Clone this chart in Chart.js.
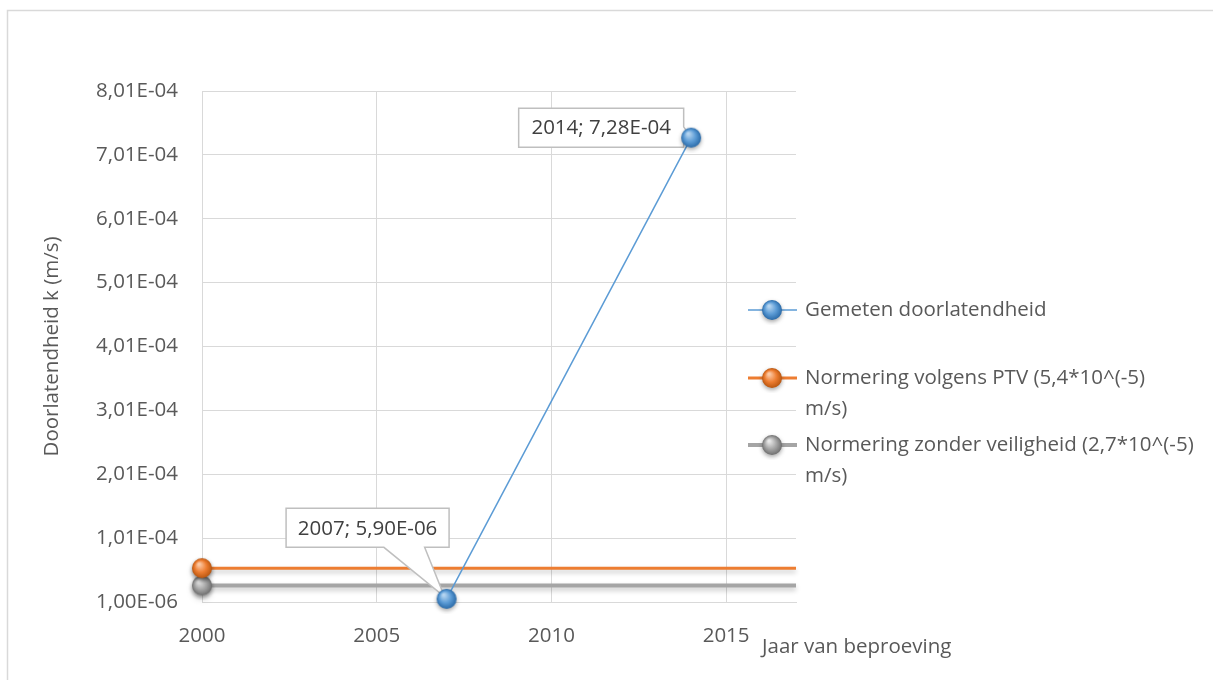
<!DOCTYPE html>
<html>
<head>
<meta charset="utf-8">
<script src="https://cdn.jsdelivr.net/npm/chart.js@4/dist/chart.umd.min.js"></script>
<style>
  html, body { margin: 0; padding: 0; background: #ffffff; }
  #wrap { width: 1213px; height: 680px; }
</style>
</head>
<body>
<div id="wrap"><canvas id="c" width="1213" height="680"></canvas></div>
<script>
// Measured permeability per test year
const measuredYears = [2007, 2014];
const measuredValues = [5.90e-6, 7.28e-4];

// Norm lines (constant over the whole period)
const normYears = [2000, 2017];
const normPTV = [5.4e-5, 5.4e-5];
const normNoSafety = [2.7e-5, 2.7e-5];

// Axis ticks
const xTickValues = [2000, 2005, 2010, 2015];
const yTickValues = [1.00e-6, 1.01e-4, 2.01e-4, 3.01e-4, 4.01e-4, 5.01e-4, 6.01e-4, 7.01e-4, 8.01e-4];

const seriesNames = [
  'Gemeten doorlatendheid',
  'Normering volgens PTV (5,4*10^(-5) m/s)',
  'Normering zonder veiligheid (2,7*10^(-5) m/s)'
];
const legendLines = [
  ['Gemeten doorlatendheid'],
  ['Normering volgens PTV (5,4*10^(-5)', 'm/s)'],
  ['Normering zonder veiligheid (2,7*10^(-5)', 'm/s)']
];

const FONT = '"Open Sans"';
const FSIZE = 20.5;
const TEXT = '#595959';
const GRID = '#d9d9d9';

function fmtSci(v) {
  const parts = v.toExponential(2).split('e');
  const ex = parseInt(parts[1], 10);
  return parts[0].replace('.', ',') + 'E' + (ex < 0 ? '-' : '+') + String(Math.abs(ex)).padStart(2, '0');
}

// Shaded sphere used as the point marker
function makeSphere(r, light, mid, dark) {
  const s = 2 * r + 10;
  const cv = document.createElement('canvas');
  cv.width = s; cv.height = s;
  const g = cv.getContext('2d');
  const c = s / 2;
  g.save();
  g.shadowColor = 'rgba(0,0,0,0.35)';
  g.shadowBlur = 4;
  g.shadowOffsetY = 2;
  const grad = g.createRadialGradient(c - r * 0.3, c - r * 0.4, r * 0.1, c, c, r);
  grad.addColorStop(0, light);
  grad.addColorStop(0.55, mid);
  grad.addColorStop(1, dark);
  g.fillStyle = grad;
  g.beginPath();
  g.arc(c, c, r, 0, Math.PI * 2);
  g.fill();
  g.restore();
  return cv;
}

const sphereBlue = makeSphere(10, '#b4d4f0', '#5b9bd5', '#2a6aa8');
const sphereOrange = makeSphere(10, '#fbc8a4', '#ed7d31', '#b9560f');
const sphereGray = makeSphere(10, '#e8e8e8', '#a5a5a5', '#6f6f6f');
const spheres = [sphereBlue, sphereOrange, sphereGray];
const lineColors = ['#5b9bd5', '#ed7d31', '#a5a5a5'];
const lineWidths = [1.5, 3, 4];

// Callout placement relative to each labelled point: box centre offset and pointer side
const calloutStyle = [
  { dx: -79, dy: -71, w: 163, h: 39, side: 'bottom' },
  { dx: -90, dy: -10, w: 165, h: 39, side: 'right' }
];

const outerFrame = {
  id: 'outerFrame',
  beforeDraw(chart) {
    const ctx = chart.ctx;
    ctx.save();
    ctx.strokeStyle = GRID;
    ctx.lineWidth = 1.5;
    ctx.strokeRect(7.5, 10.5, 1400, 900);
    ctx.restore();
  }
};

const lineShadow = {
  id: 'lineShadow',
  beforeDatasetDraw(chart, args) {
    const ctx = chart.ctx;
    ctx.save();
    if (args.index > 0) {
      ctx.shadowColor = 'rgba(0,0,0,0.22)';
      ctx.shadowBlur = 5;
      ctx.shadowOffsetY = 3;
    }
    if (args.index === 0) drawCallouts(chart);
  },
  afterDatasetDraw(chart) {
    chart.ctx.restore();
  }
};

function drawCallouts(chart) {
  const ctx = chart.ctx;
  const meta = chart.getDatasetMeta(0);
  meta.data.forEach((pt, i) => {
    const st = calloutStyle[i];
    const cx = pt.x + st.dx, cy = pt.y + st.dy;
    const l = cx - st.w / 2, r = cx + st.w / 2, t = cy - st.h / 2, b = cy + st.h / 2;
    ctx.save();
    ctx.beginPath();
    if (st.side === 'bottom') {
      const b1 = l + st.w * 0.6, b2 = l + st.w * 0.85;
      ctx.moveTo(l, t); ctx.lineTo(r, t); ctx.lineTo(r, b);
      ctx.lineTo(b2, b); ctx.lineTo(pt.x - 2, pt.y - 2); ctx.lineTo(b1, b);
      ctx.lineTo(l, b); ctx.closePath();
    } else {
      ctx.moveTo(l, t); ctx.lineTo(r, t); ctx.lineTo(r, t + st.h * 0.48);
      ctx.lineTo(pt.x, pt.y); ctx.lineTo(r, t + st.h * 0.8);
      ctx.lineTo(r, b); ctx.lineTo(l, b); ctx.closePath();
    }
    ctx.fillStyle = '#ffffff';
    ctx.fill();
    ctx.strokeStyle = '#bfbfbf';
    ctx.lineWidth = 1.5;
    ctx.stroke();
    ctx.fillStyle = '#404040';
    ctx.font = FSIZE + 'px ' + FONT;
    ctx.textAlign = 'center';
    ctx.textBaseline = 'middle';
    ctx.fillText(measuredYears[i] + '; ' + fmtSci(measuredValues[i]), cx, cy + 1);
    ctx.restore();
  });
}

const sideLegend = {
  id: 'sideLegend',
  afterDraw(chart) {
    const ctx = chart.ctx;
    const rows = [310, 378, 445];
    ctx.save();
    rows.forEach((y, i) => {
      ctx.strokeStyle = lineColors[i];
      ctx.lineWidth = lineWidths[i];
      ctx.beginPath();
      ctx.moveTo(748, y); ctx.lineTo(797, y);
      ctx.stroke();
      const sp = spheres[i];
      ctx.drawImage(sp, 772 - sp.width / 2, y - sp.height / 2);
      ctx.fillStyle = TEXT;
      ctx.font = FSIZE + 'px ' + FONT;
      ctx.textAlign = 'left';
      ctx.textBaseline = 'middle';
      legendLines[i].forEach((ln, k) => ctx.fillText(ln, 805, y + k * 31));
    });
    // Horizontal axis title, placed beside the last year
    ctx.font = FSIZE + 'px ' + FONT;
    ctx.fillText('Jaar van beproeving', 762, 647);
    ctx.restore();
  }
};

new Chart(document.getElementById('c'), {
  type: 'line',
  data: {
    datasets: [
      {
        label: seriesNames[0],
        data: measuredYears.map((x, i) => ({ x, y: measuredValues[i] })),
        borderColor: lineColors[0],
        borderWidth: lineWidths[0],
        pointStyle: sphereBlue,
        pointRadius: 10,
        clip: false
      },
      {
        label: seriesNames[1],
        data: normYears.map((x, i) => ({ x, y: normPTV[i] })),
        borderColor: lineColors[1],
        borderWidth: lineWidths[1],
        pointStyle: sphereOrange,
        pointRadius: [10, 0],
        clip: false
      },
      {
        label: seriesNames[2],
        data: normYears.map((x, i) => ({ x, y: normNoSafety[i] })),
        borderColor: lineColors[2],
        borderWidth: lineWidths[2],
        pointStyle: sphereGray,
        pointRadius: [10, 0],
        clip: false
      }
    ]
  },
  options: {
    responsive: false,
    animation: false,
    events: [],
    layout: { padding: { left: 36, top: 91, right: 417, bottom: 0 } },
    plugins: {
      legend: { display: false },
      tooltip: { enabled: false }
    },
    scales: {
      x: {
        type: 'linear',
        min: 2000,
        max: 2017,
        afterBuildTicks(s) { s.ticks = xTickValues.map(v => ({ value: v })); },
        afterFit(s) { s.height = 78; },
        grid: { color: GRID, lineWidth: 1, drawTicks: false },
        border: { color: GRID, width: 1 },
        ticks: {
          autoSkip: false,
          maxRotation: 0,
          padding: 22,
          color: TEXT,
          font: { family: FONT, size: FSIZE },
          callback: v => String(v)
        }
      },
      y: {
        type: 'linear',
        min: 1.00e-6,
        max: 8.01e-4,
        afterBuildTicks(s) { s.ticks = yTickValues.map(v => ({ value: v })); },
        afterFit(s) { s.width = 166; },
        grid: { color: GRID, lineWidth: 1, drawTicks: false },
        border: { display: false },
        ticks: {
          autoSkip: false,
          padding: 24,
          color: TEXT,
          font: { family: FONT, size: FSIZE },
          callback: v => fmtSci(v)
        },
        title: {
          display: true,
          text: 'Doorlatendheid k (m/s)',
          color: TEXT,
          font: { family: FONT, size: FSIZE }
        }
      }
    }
  },
  plugins: [outerFrame, lineShadow, sideLegend]
});
</script>
</body>
</html>
